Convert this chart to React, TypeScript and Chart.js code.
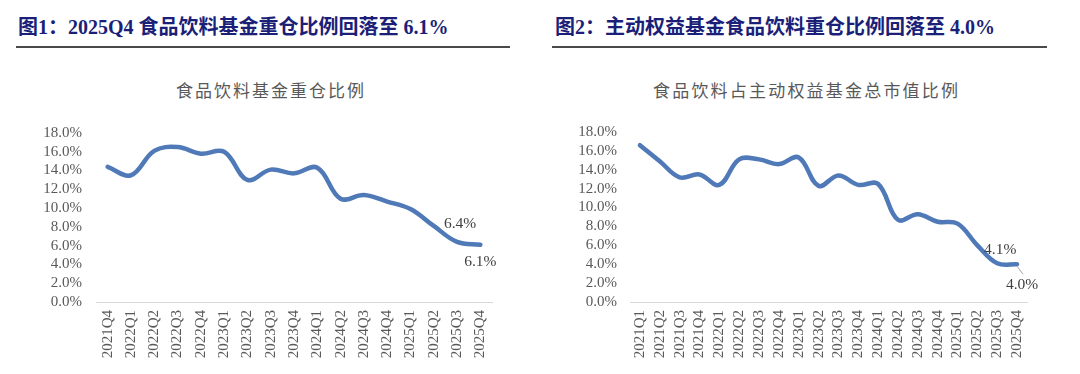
import React, { useEffect, useRef } from "react";
import { Chart, registerables } from "chart.js";

Chart.register(...registerables);

const header1 = "图1：2025Q4 食品饮料基金重仓比例回落至 6.1%";
const header2 = "图2：主动权益基金食品饮料重仓比例回落至 4.0%";
const title1 = "食品饮料基金重仓比例";
const title2 = "食品饮料占主动权益基金总市值比例";

const categories1 = [
  "2021Q4", "2022Q1", "2022Q2", "2022Q3", "2022Q4", "2023Q1", "2023Q2", "2023Q3", "2023Q4",
  "2024Q1", "2024Q2", "2024Q3", "2024Q4", "2025Q1", "2025Q2", "2025Q3", "2025Q4",
];
const values1 = [14.4, 13.5, 16.1, 16.5, 15.8, 16.0, 13.0, 14.1, 13.7, 14.3, 11.0, 11.4, 10.7, 9.9, 8.1, 6.4, 6.1];

const categories2 = [
  "2021Q1", "2021Q2", "2021Q3", "2021Q4", "2022Q1", "2022Q2", "2022Q3", "2022Q4", "2023Q1", "2023Q2",
  "2023Q3", "2023Q4", "2024Q1", "2024Q2", "2024Q3", "2024Q4", "2025Q1", "2025Q2", "2025Q3", "2025Q4",
];
const values2 = [16.6, 14.9, 13.2, 13.5, 12.4, 15.1, 15.1, 14.6, 15.3, 12.3, 13.4, 12.4, 12.5, 8.7, 9.3, 8.5, 8.3, 6.0, 4.1, 4.0];

const yMin = 0;
const yMax = 18;
const yStep = 2;

type Ann = { index: number; text: string; dx: number; dy: number; leader?: boolean };

const ann1: Ann[] = [
  { index: 15, text: "6.4%", dx: 3, dy: -18 },
  { index: 16, text: "6.1%", dx: 0, dy: 17 },
];
const ann2: Ann[] = [
  { index: 18, text: "4.1%", dx: 3, dy: -13 },
  { index: 19, text: "4.0%", dx: 5, dy: 21, leader: true },
];

const SERIF = '"Liberation Serif", "Times New Roman", serif';
const LINE_COLOR = "#4F79B7";

function LineChart(props: {
  labels: string[];
  values: number[];
  anns: Ann[];
  yWidth: number;
  padRight: number;
  tickPad: number;
}) {
  const ref = useRef<HTMLCanvasElement | null>(null);
  useEffect(() => {
    if (!ref.current) return;
    const annPlugin = {
      id: "anns",
      afterDatasetsDraw(chart: any) {
        const ctx = chart.ctx;
        const meta = chart.getDatasetMeta(0);
        ctx.save();
        ctx.font = `15.5px ${SERIF}`;
        ctx.fillStyle = "#404040";
        ctx.textAlign = "center";
        ctx.textBaseline = "middle";
        for (const a of props.anns) {
          const p = meta.data[a.index];
          if (!p) continue;
          if (a.leader) {
            ctx.strokeStyle = "#A6A6A6";
            ctx.lineWidth = 1;
            ctx.beginPath();
            ctx.moveTo(p.x, p.y + 2);
            ctx.lineTo(p.x + a.dx + 1, p.y + a.dy - 11);
            ctx.stroke();
          }
          ctx.fillText(a.text, p.x + a.dx, p.y + a.dy);
        }
        ctx.restore();
      },
    };
    const chart = new Chart(ref.current, {
      type: "line",
      data: {
        labels: props.labels,
        datasets: [
          {
            data: props.values,
            borderColor: LINE_COLOR,
            borderWidth: 4.5,
            pointRadius: 0,
            tension: 0.38,
            fill: false,
            borderCapStyle: "round",
            borderJoinStyle: "round",
          },
        ],
      },
      options: {
        animation: false,
        responsive: false,
        maintainAspectRatio: false,
        layout: { padding: { left: 0, right: props.padRight, top: 18, bottom: 0 } },
        plugins: { legend: { display: false }, tooltip: { enabled: false }, title: { display: false } },
        scales: {
          x: {
            type: "category",
            offset: true,
            grid: { display: false, drawTicks: false },
            border: { display: true, color: "#D9D9D9", width: 1 },
            ticks: {
              minRotation: 90,
              maxRotation: 90,
              autoSkip: false,
              padding: 8,
              color: "#595959",
              font: { family: SERIF, size: 15 },
            },
            afterFit: (s: any) => {
              s.height = 72;
            },
          },
          y: {
            min: yMin,
            max: yMax,
            grid: { display: false, drawTicks: false },
            border: { display: false },
            ticks: {
              stepSize: yStep,
              autoSkip: false,
              padding: props.tickPad,
              color: "#595959",
              font: { family: SERIF, size: 15 },
              callback: (v: any) => Number(v).toFixed(1) + "%",
            },
            afterFit: (s: any) => {
              s.width = props.yWidth;
            },
          },
        },
      },
      plugins: [annPlugin],
    } as any);
    return () => chart.destroy();
  }, []);
  return <canvas ref={ref} width={540} height={264} style={{ display: "block", width: 540, height: 264 }} />;
}

const headerStyle: React.CSSProperties = {
  position: "absolute",
  top: 14,
  fontFamily: '"Liberation Serif", "Noto Sans CJK SC", serif',
  fontWeight: 700,
  fontSize: 20,
  color: "#1B1F78",
  whiteSpace: "nowrap",
  lineHeight: "26px",
};

const titleStyle: React.CSSProperties = {
  position: "absolute",
  top: 79,
  fontFamily: '"Noto Sans CJK SC", sans-serif',
  fontSize: 17,
  color: "#595959",
  whiteSpace: "nowrap",
  lineHeight: "22px",
};

export default function App() {
  useEffect(() => {
    document.body.style.margin = "0";
  }, []);
  return (
    <div style={{ position: "relative", width: 1080, height: 374, background: "#fff", overflow: "hidden" }}>
      <div style={{ ...headerStyle, left: 18 }}>{header1}</div>
      <div style={{ ...headerStyle, left: 555 }}>{header2}</div>
      <div style={{ position: "absolute", left: 16, top: 46, width: 494, height: 1.5, background: "#4a4a4a" }} />
      <div style={{ position: "absolute", left: 552, top: 46, width: 495, height: 1.5, background: "#4a4a4a" }} />
      <div style={{ ...titleStyle, left: 176, letterSpacing: 2.0 }}>{title1}</div>
      <div style={{ ...titleStyle, left: 653, letterSpacing: 2.2 }}>{title2}</div>
      <div style={{ position: "absolute", left: 0, top: 110 }}>
        <LineChart labels={categories1} values={values1} anns={ann1} yWidth={96} padRight={48} tickPad={14} />
      </div>
      <div style={{ position: "absolute", left: 540, top: 110 }}>
        <LineChart labels={categories2} values={values2} anns={ann2} yWidth={90} padRight={53} tickPad={13} />
      </div>
    </div>
  );
}
